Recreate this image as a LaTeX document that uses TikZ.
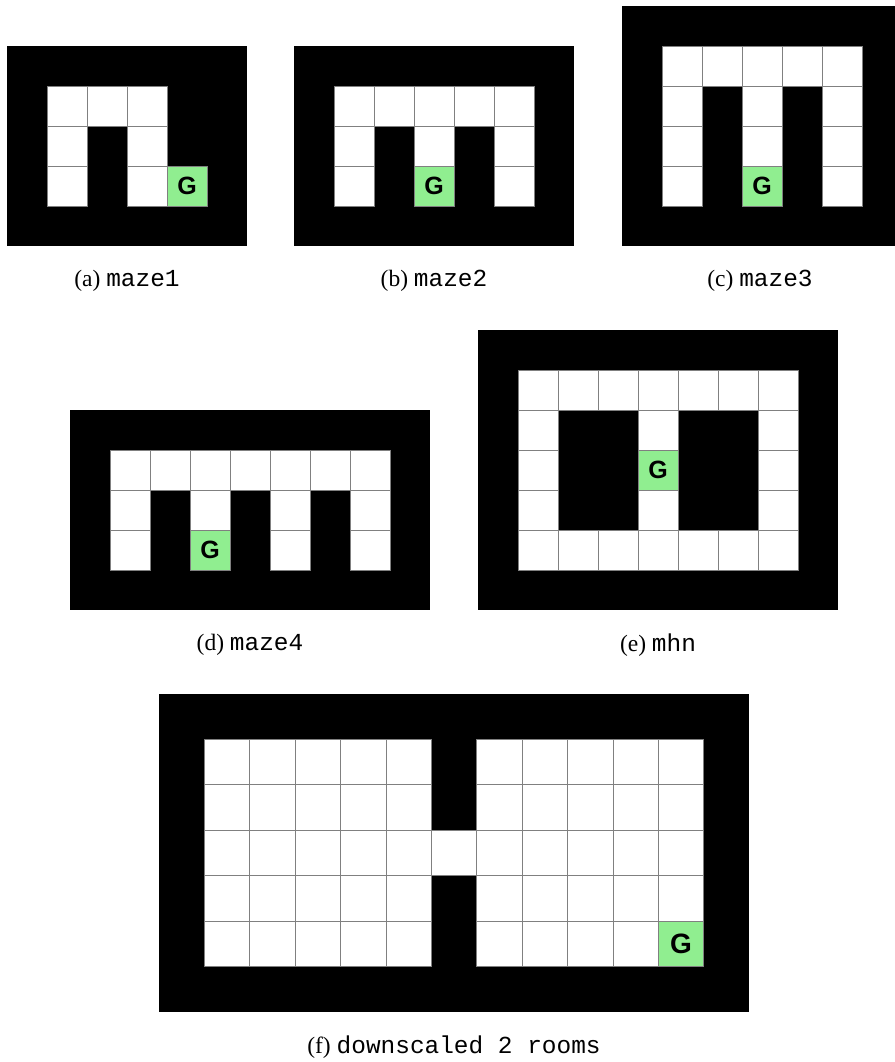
\documentclass[tikz,border=0pt]{standalone}
\usepackage{fontspec}
\setmainfont{Liberation Serif}
\setmonofont{Liberation Mono}[Scale=1.04]
\newfontfamily\gfont{Liberation Sans}
\definecolor{goalgreen}{HTML}{90EE90}
\tikzset{
  wall/.style={fill=black, draw=none},
  freecell/.style={fill=white, draw=gray, line width=0.8pt},
  goalcell/.style={fill=goalgreen, draw=gray, line width=0.8pt},
  goal/.style={font=\gfont\bfseries\fontsize{25}{25}\selectfont, inner sep=0pt},
  biggoal/.style={font=\gfont\bfseries\fontsize{28}{28}\selectfont, inner sep=0pt},
  captext/.style={font=\fontsize{23.5}{27}\selectfont, inner sep=0pt}
}
% #1 ox, #2 oy, #3 cell, #4 W, #5 H, #6 free cells, #7 goal col, #8 goal row, #9 goal node name
\newcommand\drawmaze[9]{%
  \fill[wall] (#1,#2) rectangle ++({#3*#4},{#3*#5});
  \foreach \c/\r in {#6} \draw[freecell] ({#1+\c*#3},{#2+\r*#3}) rectangle ++(#3,#3);
  \draw[goalcell] ({#1+#7*#3},{#2+#8*#3}) rectangle ++(#3,#3);
  \node[goal] (#9) at ({#1+(#7+0.5)*#3},{#2+(#8+0.5)*#3}) {G};
}
\begin{document}
\begin{tikzpicture}[x=1pt,y=-1pt]
\useasboundingbox (0,0) rectangle (894,1062);
\fill[white] (0,0) rectangle (894,1062);
% (a) maze1
\drawmaze{7}{46}{40}{6}{5}{1/1,2/1,3/1,1/2,3/2,1/3,3/3}{4}{3}{ga}
\node[captext] (capa) at (127,281) {(a) \texttt{maze1}};
% (b) maze2
\drawmaze{294}{46}{40}{7}{5}{1/1,2/1,3/1,4/1,5/1,1/2,3/2,5/2,1/3,5/3}{3}{3}{gb}
\node[captext] (capb) at (434,281) {(b) \texttt{maze2}};
% (c) maze3
\drawmaze{622}{6}{40}{7}{6}{1/1,2/1,3/1,4/1,5/1,1/2,3/2,5/2,1/3,3/3,5/3,1/4,5/4}{3}{4}{gc}
\node[captext] (capc) at (760,281) {(c) \texttt{maze3}};
% (d) maze4
\drawmaze{70}{410}{40}{9}{5}{1/1,2/1,3/1,4/1,5/1,6/1,7/1,1/2,3/2,5/2,7/2,1/3,5/3,7/3}{3}{3}{gd}
\node[captext] (capd) at (250,645) {(d) \texttt{maze4}};
% (e) mhn
\drawmaze{478}{330}{40}{9}{7}{1/1,2/1,3/1,4/1,5/1,6/1,7/1,1/2,4/2,7/2,1/3,7/3,1/4,4/4,7/4,1/5,2/5,3/5,4/5,5/5,6/5,7/5}{4}{3}{ge}
\node[captext] (cape) at (658,645) {(e) \texttt{mhn}};
% (f) downscaled 2 rooms
\fill[wall] (159,694) rectangle ++(590,318);
\foreach \r in {1,...,5}
  \foreach \c in {1,2,3,4,5,7,8,9,10,11}
    \draw[freecell] ({159+\c*45.4},{694+\r*45.4}) rectangle ++(45.4,45.4);
\draw[freecell] ({159+6*45.4},{694+3*45.4}) rectangle ++(45.4,45.4);
\draw[goalcell] ({159+11*45.4},{694+5*45.4}) rectangle ++(45.4,45.4);
\node[biggoal] (gf) at ({159+11.5*45.4},{694+5.5*45.4}) {G};
\node[captext] (capf) at (454,1047) {(f) \texttt{downscaled 2 rooms}};
\end{tikzpicture}
\end{document}
